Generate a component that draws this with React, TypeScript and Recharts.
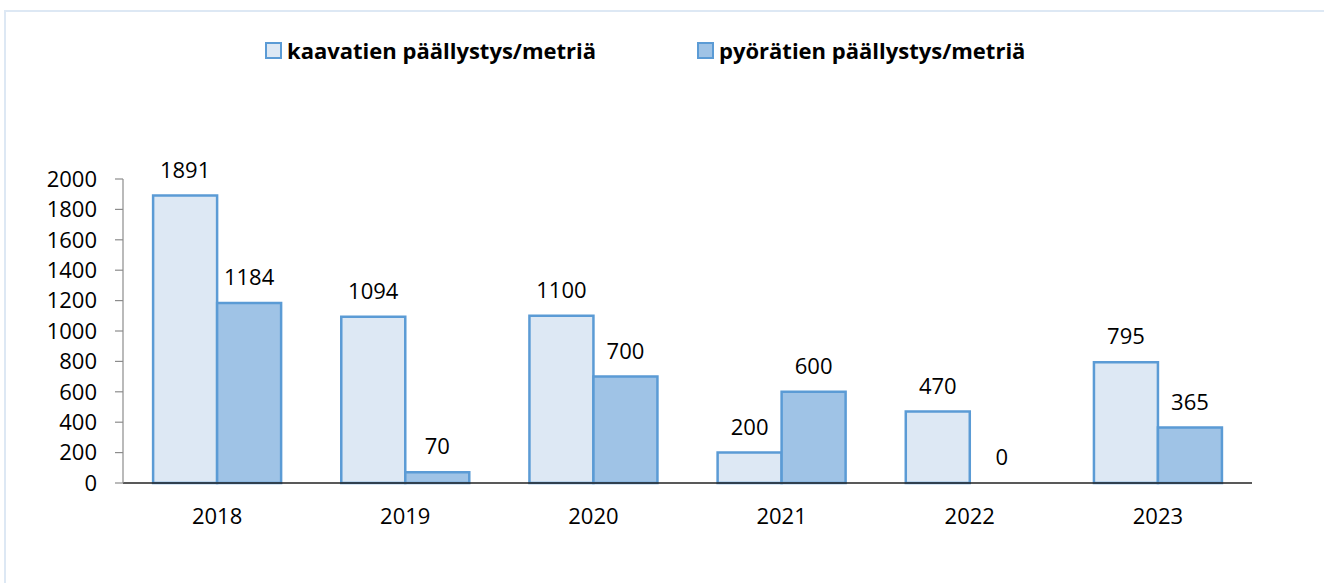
import { BarChart, Bar, XAxis, YAxis, Legend, LabelList, Rectangle } from "recharts";

// ── Data ──────────────────────────────────────────────────────────────────────
const years = ["2018", "2019", "2020", "2021", "2022", "2023"];
const kaavatiet = [1891, 1094, 1100, 200, 470, 795];
const pyoratiet = [1184, 70, 700, 600, 0, 365];
const yTicks = [0, 200, 400, 600, 800, 1000, 1200, 1400, 1600, 1800, 2000];

const seriesNames = ["kaavatien päällystys/metriä", "pyörätien päällystys/metriä"];

const data = years.map((year, i) => ({
  year,
  kaavatiet: kaavatiet[i],
  pyoratiet: pyoratiet[i],
}));

const FONT = "'Open Sans', 'Noto Sans', sans-serif";
const LIGHT = "#dde8f4";
const DARK = "#9fc3e6";
const EDGE = "#5b9bd5";

// ── Legend ────────────────────────────────────────────────────────────────────
function CustomLegend() {
  const items = [
    { name: seriesNames[0], fill: LIGHT, left: 265 },
    { name: seriesNames[1], fill: DARK, left: 697 },
  ];
  return (
    <div
      style={{
        height: 40,
        display: "flex",
        alignItems: "center",
        fontFamily: FONT,
        fontWeight: 700,
        fontSize: 22,
        color: "#000",
      }}
    >
      {items.map((it) => (
        <div
          key={it.name}
          style={{
            display: "flex",
            alignItems: "center",
            position: "absolute",
            left: it.left,
          }}
        >
          <span
            style={{
              width: 13,
              height: 13,
              background: it.fill,
              border: `2px solid ${EDGE}`,
              marginRight: 5,
            }}
          />
          {it.name}
        </div>
      ))}
    </div>
  );
}

// zero-valued bars keep their label but draw no box
function BarShape(props: any) {
  if (props.height !== undefined && Math.abs(props.height) < 0.5) return <g />;
  return <Rectangle {...props} />;
}

const labelStyle = { fontSize: 22, fill: "#000", fontFamily: FONT };

export default function App() {
  return (
    <div
      style={{
        position: "absolute",
        left: 0,
        top: 0,
        width: 1324,
        height: 583,
        overflow: "hidden",
        background: "#fff",
      }}
    >
      <div
        style={{
          position: "absolute",
          left: 4,
          top: 10,
          width: 1340,
          height: 600,
          border: "2px solid #dde8f4",
        }}
      />
      <div style={{ position: "absolute", left: 0, top: 0 }}>
        <BarChart
          width={1324}
          height={583}
          data={data}
          margin={{ top: 139, right: 72, left: 53, bottom: 70 }}
          barCategoryGap="16%"
          barGap={0}
        >
          <Legend
            verticalAlign="top"
            content={<CustomLegend />}
            wrapperStyle={{ top: 30, left: 0, width: 1324, height: 40 }}
          />
          <XAxis
            dataKey="year"
            axisLine={{ stroke: "#222", strokeWidth: 1.5 }}
            tickLine={false}
            tickSize={6}
            tickMargin={19}
            height={30}
            tick={{ fontSize: 22, fill: "#000", fontFamily: FONT }}
          />
          <YAxis
            domain={[0, 2000]}
            ticks={yTicks}
            interval={0}
            width={70}
            axisLine={{ stroke: "#8c8c8c", strokeWidth: 1.2 }}
            tickLine={{ stroke: "#8c8c8c", strokeWidth: 1.2 }}
            tickSize={8}
            tickMargin={18}
            tick={{ fontSize: 22, fill: "#000", fontFamily: FONT }}
          />
          <Bar
            dataKey="kaavatiet"
            name={seriesNames[0]}
            fill={LIGHT}
            stroke={EDGE}
            strokeWidth={2.5}
            isAnimationActive={false}
          >
            <LabelList dataKey="kaavatiet" position="top" offset={18} style={labelStyle} />
          </Bar>
          <Bar
            dataKey="pyoratiet"
            name={seriesNames[1]}
            fill={DARK}
            stroke={EDGE}
            strokeWidth={2.5}
            minPointSize={(value: number) => (value === 0 ? 0.1 : 0)}
            shape={BarShape}
            isAnimationActive={false}
          >
            <LabelList dataKey="pyoratiet" position="top" offset={18} style={labelStyle} />
          </Bar>
        </BarChart>
      </div>
    </div>
  );
}
